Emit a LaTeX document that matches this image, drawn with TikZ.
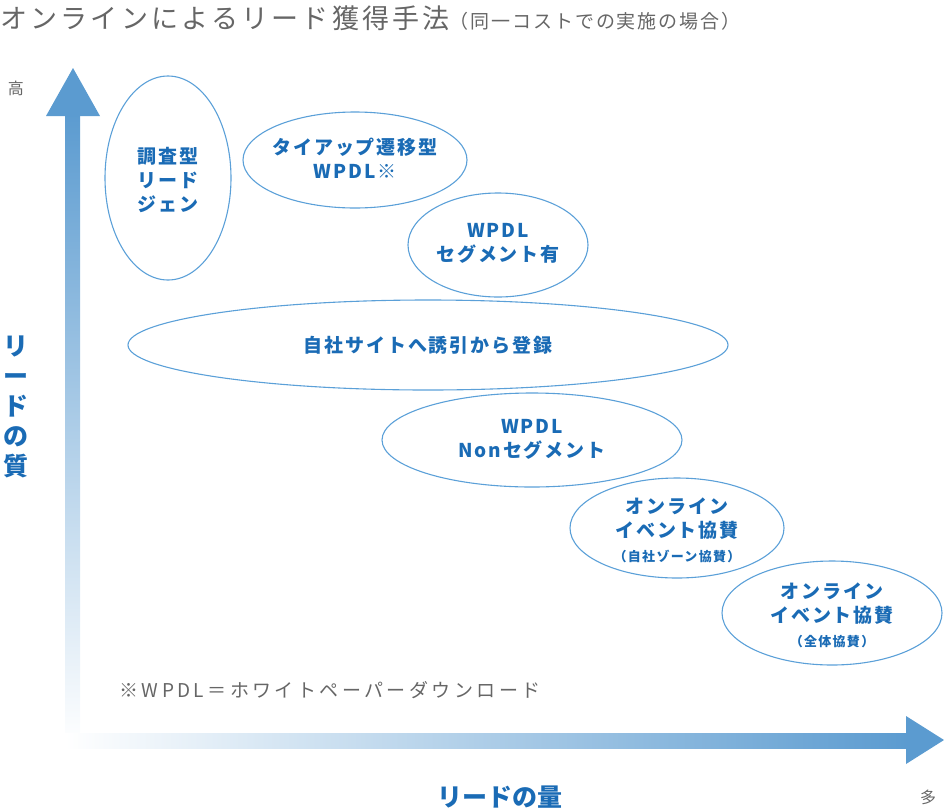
\documentclass[tikz,border=0pt]{standalone}
\usepackage{fontspec}
\setmainfont{Noto Sans CJK JP}
\definecolor{ax}{HTML}{5B9BD0}
\definecolor{el}{HTML}{5BA0D8}
\definecolor{tx}{HTML}{1A6BB5}
\definecolor{gr}{HTML}{666666}
\begin{document}
\begin{tikzpicture}[x=1pt,y=-1pt,
 lab/.style={text=tx,font=\fontsize{19}{24}\selectfont\bfseries\addfontfeature{LetterSpace=10},align=center}]
\useasboundingbox (0,0) rectangle (944,809);
\node[anchor=west,text=gr,inner sep=0] (title) at (0,18) {\fontsize{27}{29}\selectfont\addfontfeature{LetterSpace=12}オンラインによるリード獲得手法\fontsize{19}{21}\selectfont\addfontfeature{LetterSpace=10}（同一コストでの実施の場合）};
% y axis
\shade[top color=ax,bottom color=white] (65,112) rectangle (80,745);
\fill[ax] (46,116) -- (73,68) -- (100,116) -- cycle;
% x axis
\shade[left color=white,right color=ax] (65,733) rectangle (908,748);
\fill[ax] (906,716) -- (944,740) -- (906,764) -- cycle;
\node[text=gr,font=\fontsize{16}{18}\selectfont] (hi) at (16,88) {高};
\node[text=gr,font=\fontsize{16}{18}\selectfont] (many) at (928,797) {多};
\node[text=tx,font=\fontsize{25}{30}\selectfont\bfseries,align=center] (yl) at (16,407) {リ\\ー\\ド\\の\\質};
\node[text=tx,font=\fontsize{25}{30}\selectfont\bfseries] (xl) at (500,797) {リードの量};
\draw[el,line width=1.1pt] (168,178) ellipse (63 and 102);
\node[lab] (e1) at (168,180) {調査型\\リード\\ジェン};
\draw[el,line width=1.1pt] (355,160) ellipse (112 and 48);
\node[lab] (e2) at (355,158) {タイアップ遷移型\\WPDL※};
\draw[el,line width=1.1pt] (498,245) ellipse (90 and 52);
\node[lab] (e3) at (498,243) {WPDL\\セグメント有};
\draw[el,line width=1.1pt] (428,345) ellipse (300 and 45);
\node[lab] (e4) at (428,345) {自社サイトへ誘引から登録};
\draw[el,line width=1.1pt] (532,440) ellipse (150 and 47);
\node[lab] (e5) at (532,439) {WPDL\\Nonセグメント};
\draw[el,line width=1.1pt] (677,528) ellipse (107 and 50);
\node[lab] (e6) at (677,530) {オンライン\\イベント協賛\\{\fontsize{13}{15}\selectfont（自社ゾーン協賛）}};
\draw[el,line width=1.1pt] (832,613) ellipse (110 and 52);
\node[lab] (e7) at (832,615) {オンライン\\イベント協賛\\{\fontsize{13}{15}\selectfont（全体協賛）}};
\node[anchor=west,text=gr,font=\fontsize{19}{22}\selectfont\addfontfeature{LetterSpace=18}] (note) at (116,690) {※WPDL＝ホワイトペーパーダウンロード};
\end{tikzpicture}
\end{document}
